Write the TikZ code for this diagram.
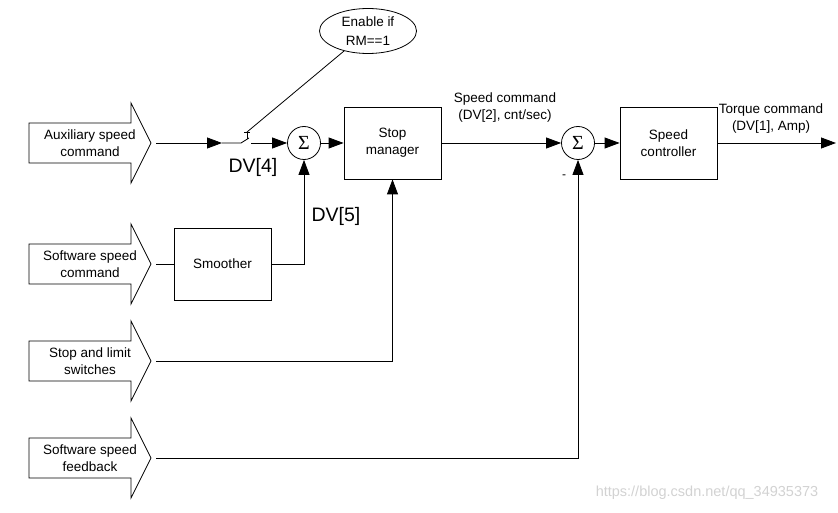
\documentclass[tikz,border=0pt]{standalone}
\usepackage{fontspec}
\setmainfont{Liberation Sans}
\newfontfamily\sigmafont{Liberation Serif}
\usetikzlibrary{arrows.meta,shapes.geometric}
\begin{document}
\begin{tikzpicture}[x=1pt,y=-1pt,
  line width=0.8pt,
  tip/.style={-{Triangle[length=15pt,width=11pt]}},
  box/.style={draw, minimum width=97pt, minimum height=72pt, inner sep=0pt, align=center, font=\fontsize{13.5}{17}\selectfont},
  sumnode/.style={draw, circle, minimum size=33pt, inner sep=0pt, font=\sigmafont\fontsize{20}{20}\selectfont},
  lbl/.style={align=center, font=\fontsize{13.5}{17}\selectfont, inner sep=0pt},
  big/.style={font=\fontsize{19.5}{20}\selectfont, inner sep=0pt},
  blk/.style={draw, fill=white}]
\useasboundingbox (0,0) rectangle (838,513);

% input block arrows
\draw[blk] (29,123) -- (131,123) -- (131,103) -- (151,143) -- (131,183) -- (131,163) -- (29,163) -- cycle;
\node[lbl] (aux) at (90,143) {Auxiliary speed\\command};
\coordinate (auxtip) at (156,143);

\draw[blk] (29,244) -- (131,244) -- (131,224) -- (151,264) -- (131,304) -- (131,284) -- (29,284) -- cycle;
\node[lbl] (swc) at (90,264) {Software speed\\command};
\coordinate (swctip) at (156,264);

\draw[blk] (29,341) -- (131,341) -- (131,321) -- (151,361) -- (131,401) -- (131,381) -- (29,381) -- cycle;
\node[lbl] (sls) at (90,361) {Stop and limit\\switches};
\coordinate (slstip) at (156,361);

\draw[blk] (29,438) -- (131,438) -- (131,418) -- (151,458) -- (131,498) -- (131,478) -- (29,478) -- cycle;
\node[lbl] (fb) at (90,458) {Software speed\\feedback};
\coordinate (fbtip) at (156,458);

% blocks
\node[box] (sm) at (222.5,264) {Smoother};
\node[box] (stop) at (392.5,143) {Stop\\manager};
\node[box] (sc) at (668.5,143) {Speed\\controller};
\node[sumnode] (s1) at (304,143) {Σ};
\node[sumnode] (s2) at (578,143) {Σ};
\node[draw, ellipse, minimum width=97pt, minimum height=45pt, inner sep=0pt, align=center, font=\fontsize{13.5}{19}\selectfont] (en) at (368,31) {Enable if\\RM==1};

% switch
\coordinate (m1) at (222,143);
\coordinate (swA) at (241,143);
\coordinate (swBl) at (249,138);
\coordinate (tTop) at (247,132);
\coordinate (swB) at (251,143);
\draw[tip] (auxtip) -- (m1);
\draw (m1) -- (swA) -- (swBl);
\draw (tTop) -- (247,139);
\draw (244,132) -- (250,132);
\draw (en) -- (tTop);
\draw[tip] (swB) -- (s1);

% connections
\draw (swctip) -- (sm.west);
\draw[tip] (sm.east) -| (s1.south);
\draw[tip] (s1.east) -- (stop.west);
\draw[tip] (slstip) -| (stop.south);
\draw[tip] (stop.east) -- (s2.west);
\draw[tip] (fbtip) -| (s2.south);
\draw[tip] (s2.east) -- (sc.west);
\coordinate (out) at (836,143);
\draw[tip] (sc.east) -- (out);

% labels
\node[big] (dv4) at (253,167) {DV[4]};
\node[big] (dv5) at (336,216) {DV[5]};
\node[lbl] (spc) at (505,107.5) {Speed command\\(DV[2], cnt/sec)};
\node[lbl] (tqc) at (771,119) {Torque command\\(DV[1], Amp)};
\node[inner sep=0pt, font=\fontsize{12}{12}\selectfont] (minus) at (564,177) {-};
\node[inner sep=0pt, text=gray!35, font=\fontsize{14.5}{15}\selectfont] (wm) at (707,493) {https://blog.csdn.net/qq\_34935373};
\end{tikzpicture}
\end{document}
